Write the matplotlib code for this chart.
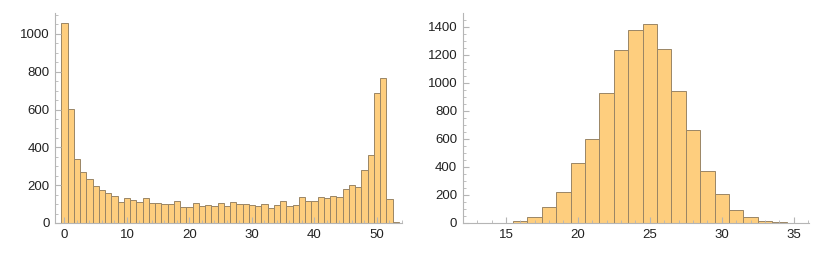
import matplotlib
matplotlib.use('Agg')
import matplotlib.pyplot as plt
from matplotlib.ticker import MultipleLocator

plt.rcParams['font.family'] = ['Liberation Sans', 'DejaVu Sans']

# Left histogram: bins of width 1 centred on 0..53
left_bins = list(range(0, 54))
left_counts = [1058, 605, 337, 272, 235, 193, 177, 159, 145, 111,
               134, 124, 111, 134, 106, 103, 99, 99, 115, 83,
               86, 103, 88, 97, 92, 106, 92, 109, 99, 101,
               97, 88, 99, 81, 94, 115, 88, 94, 136, 118,
               115, 139, 134, 145, 138, 178, 199, 189, 279, 358,
               688, 764, 128, 3]

# Right histogram: bins of width 1 centred on 13..35
right_bins = list(range(13, 36))
right_counts = [2, 0, 3, 15, 40, 117, 219, 431, 596, 929,
                1231, 1374, 1421, 1241, 943, 660, 374, 210, 93, 41,
                17, 4, 2]

bar_face = '#FECE7E'
bar_edge = '#9A8565'
axis_color = '#B5B5B5'
label_color = '#222222'

fig = plt.figure(figsize=(8.3, 2.56), dpi=100, facecolor='white')
ax1 = fig.add_axes([0.0663, 0.129, 0.418, 0.820])
ax2 = fig.add_axes([0.5575, 0.129, 0.417, 0.820])

ax1.bar(left_bins, left_counts, width=1.0, color=bar_face, edgecolor=bar_edge, linewidth=0.7)
ax2.bar(right_bins, right_counts, width=1.0, color=bar_face, edgecolor=bar_edge, linewidth=0.7)

ax1.set_xlim(-1.5, 54)
ax1.set_ylim(0, 1110)
ax1.xaxis.set_major_locator(MultipleLocator(10))
ax1.xaxis.set_minor_locator(MultipleLocator(2))
ax1.yaxis.set_major_locator(MultipleLocator(200))
ax1.yaxis.set_minor_locator(MultipleLocator(50))

ax2.set_xlim(12, 36.05)
ax2.set_ylim(0, 1498)
ax2.xaxis.set_major_locator(MultipleLocator(5))
ax2.xaxis.set_minor_locator(MultipleLocator(1))
ax2.yaxis.set_major_locator(MultipleLocator(200))
ax2.yaxis.set_minor_locator(MultipleLocator(50))

# Mathematica-like axes: light gray, ticks pointing inward
for ax in (ax1, ax2):
    ax.set_facecolor('white')
    ax.spines['top'].set_visible(False)
    ax.spines['right'].set_visible(False)
    ax.spines['left'].set_color(axis_color)
    ax.spines['bottom'].set_color(axis_color)
    ax.tick_params(which='major', direction='in', length=4, width=0.8,
                   color=axis_color, labelsize=9.5, labelcolor=label_color, pad=4)
    ax.tick_params(which='minor', direction='in', length=2.5, width=0.6, color=axis_color)

plt.savefig('out.png', dpi=100, facecolor='white')
plt.close()
